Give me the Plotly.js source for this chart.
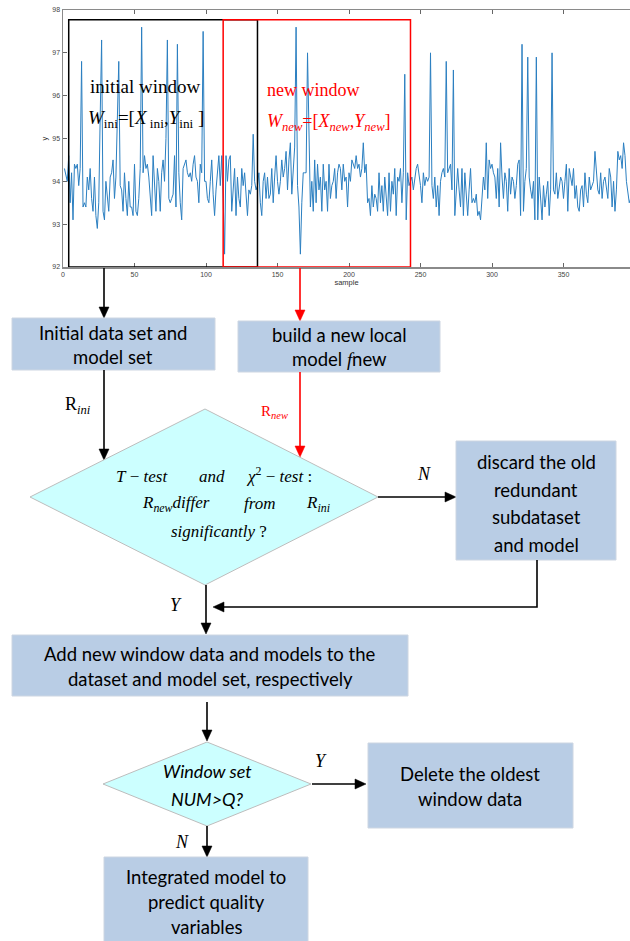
<!DOCTYPE html>
<html><head><meta charset="utf-8">
<script src="https://cdn.plot.ly/plotly-3.0.1.min.js"></script>
<style>html,body{margin:0;padding:0;background:#fff}#chart{width:630px;height:941px}</style>
</head><body><div id="chart"></div>
<script>
// ---------------- data ----------------
const yValues = [
94.3,94.1,94.0,94.6,93.5,94.2,93.1,94.4,94.3,94.4,
93.9,94.3,96.8,93.4,93.5,93.4,94.1,93.8,94.3,93.6,
93.3,94.1,93.2,92.9,93.5,95.5,97.3,93.3,93.1,94.0,
93.6,93.3,94.1,94.2,94.5,93.6,94.1,95.8,96.8,93.9,
93.8,93.3,94.2,93.6,93.2,94.0,93.4,93.4,93.2,94.4,
93.3,93.2,93.6,94.3,97.6,94.2,94.6,94.3,94.4,94.1,
93.7,93.2,94.6,94.0,93.3,94.3,94.0,93.3,94.2,94.5,
94.0,95.0,97.3,93.6,93.5,93.6,93.7,94.6,93.4,97.2,
94.2,93.5,93.1,94.3,94.4,94.5,94.2,94.1,94.2,94.0,
94.4,94.6,94.1,94.0,93.5,94.4,94.2,97.5,94.0,94.0,
93.6,93.5,94.0,94.5,93.7,93.2,93.8,94.3,94.6,93.9,
94.6,93.6,92.3,94.6,94.0,94.5,94.6,93.3,93.7,94.3,
93.2,94.1,93.6,93.4,94.3,93.9,94.2,93.8,93.2,93.8,
93.7,93.9,95.1,94.0,93.8,93.9,94.2,93.5,93.2,94.0,
94.2,93.6,94.1,93.6,93.7,94.3,93.5,94.1,94.6,94.0,
93.7,94.0,94.5,94.1,94.3,94.7,93.8,94.5,94.9,93.7,
94.4,94.8,97.6,93.9,93.4,92.3,93.5,94.2,94.2,94.2,
97.0,95.0,93.4,94.0,93.3,94.5,93.5,94.4,93.8,94.1,
93.3,94.4,93.8,94.0,93.3,94.4,93.6,93.9,94.0,94.3,
93.6,94.2,94.4,94.3,93.8,94.4,94.0,94.1,93.4,94.2,
94.0,94.5,94.4,94.3,94.6,94.3,94.4,94.1,94.3,94.9,
94.2,94.4,93.5,93.6,93.2,93.9,93.4,93.7,93.6,93.3,
94.2,93.5,93.9,93.3,94.1,93.7,93.2,94.2,93.3,94.0,
93.7,94.3,93.2,94.1,94.0,94.3,93.5,94.2,96.5,93.1,
94.2,93.9,94.0,94.1,93.8,94.1,94.3,94.4,94.2,93.9,
93.5,94.2,93.9,94.1,94.0,94.1,97.0,93.9,93.6,94.1,
93.4,93.9,93.2,94.0,94.2,94.3,94.1,96.8,94.2,94.3,
94.4,93.8,96.6,93.2,93.9,94.3,93.8,93.4,94.3,93.2,
94.2,93.7,93.2,93.8,94.3,93.5,93.6,93.5,93.7,93.2,
93.3,93.1,93.6,94.1,93.8,94.9,93.6,94.5,94.3,94.4,
94.2,94.1,93.6,94.3,93.4,94.9,94.1,93.6,94.2,94.0,
93.3,94.3,93.7,94.1,94.0,93.6,93.9,94.4,94.5,93.2,
97.2,93.3,94.0,94.3,96.9,94.1,93.8,93.6,94.0,93.1,
96.9,93.1,94.1,93.6,93.1,93.9,93.4,93.7,94.0,93.2,
93.8,97.0,93.8,93.7,94.2,93.6,93.9,94.1,94.0,93.6,
94.0,94.4,93.3,94.3,94.1,93.9,94.3,93.6,93.9,93.4,
93.3,93.8,93.9,93.4,94.2,93.7,93.5,94.1,93.8,93.9,
94.0,94.7,94.1,93.8,93.7,94.2,93.6,94.0,94.1,93.8,
93.6,94.3,94.1,93.4,94.0,93.3,93.8,94.7,94.5,94.6,
94.3,94.9,94.6,94.0,93.7,93.5,93.6,93.6,93.5,93.7
];
const sampleIndex = yValues.map((v, i) => i + 1);
const xTicks = [0, 50, 100, 150, 200, 250, 300, 350];
const yTicks = [92, 93, 94, 95, 96, 97, 98];
const windowIni = [4, 136];
const windowNew = [112, 243];
const windowLevel = [92, 97.77];

// ---------------- helpers (pixel -> paper) ----------------
const W = 630, H = 941;
const shapes = [], annotations = [];
const fx = x => x / W, fy = y => 1 - y / H;
function rect(x0, y0, x1, y1, fill, lc) {
  shapes.push({type:'rect', xref:'paper', yref:'paper', x0:fx(x0), x1:fx(x1), y0:fy(y0), y1:fy(y1),
    fillcolor:fill, line:{color:lc, width:1}, layer:'above'});
}
function poly(pts, fill, lc, lw) {
  const d = pts.map((p, i) => (i ? 'L' : 'M') + fx(p[0]) + ',' + fy(p[1])).join(' ') + (fill ? ' Z' : '');
  shapes.push({type:'path', xref:'paper', yref:'paper', path:d, fillcolor:fill || 'rgba(0,0,0,0)',
    line:{color:lc, width:lw === undefined ? 1 : lw}, layer:'above'});
}
function arrow(pts, color) {
  const n = pts.length, [x2, y2] = pts[n - 1], [x1, y1] = pts[n - 2];
  const dx = x2 - x1, dy = y2 - y1, L = Math.hypot(dx, dy), ux = dx / L, uy = dy / L;
  const hl = 11, hw = 5;
  const bx = x2 - ux * hl, by = y2 - uy * hl;
  poly(pts.slice(0, n - 1).concat([[bx, by]]), null, color, 1.6);
  poly([[x2, y2], [bx - uy * hw, by + ux * hw], [bx + uy * hw, by - ux * hw]], color, color, 0.5);
}
function txt(text, x, y, size, color, family, anchor) {
  annotations.push({xref:'paper', yref:'paper', x:fx(x), y:fy(y), text:text, showarrow:false,
    xanchor:anchor || 'center', yanchor:'middle',
    font:{size:size, color:color || '#000', family:family || 'Lato, sans-serif'}});
}
const SERIF = 'Liberation Serif, serif';
const BOX = '#B9CDE5', BOXL = '#cdd6e2', DIA = '#CCFFFF', DIAL = '#bdbdbd';
const FS = 18.5, DS = 17;

// ---------------- chart annotations ----------------
txt('initial window', 88, 87, 19, '#000', SERIF, 'left');
txt('<i>W</i><sub>ini</sub>=[<i>X</i><sub> ini</sub>,<i>Y</i><sub>ini</sub> ]', 86, 119, 19, '#000', SERIF, 'left');
txt('new window', 265, 90, 18, '#ff0000', SERIF, 'left');
txt('<i>W<sub>new</sub></i>=[<i>X<sub>new</sub></i>,<i>Y<sub>new</sub></i>]', 265, 122, 18, '#ff0000', SERIF, 'left');

// ---------------- flowchart ----------------
arrow([[104, 268], [104, 318]], '#000');
arrow([[300, 268], [300, 321]], '#ff0000');
rect(12, 318, 215, 370, BOX, BOXL);
txt('Initial data set and', 113, 333, FS);
txt('model set', 113, 357, FS);
rect(238, 321, 440, 372, BOX, BOXL);
txt('build a new local', 339, 335, FS);
txt('model <span style="font-family:Liberation Serif"><i>f</i></span>new', 339, 359, FS);
arrow([[104, 370], [104, 460]], '#000');
txt('R<sub><i>ini</i></sub>', 78, 406, 18, '#000', SERIF);
arrow([[300, 372], [300, 457]], '#ff0000');
txt('R<sub><i>new</i></sub>', 274, 412, 15, '#ff0000', SERIF);
// diamond 1
poly([[205, 409], [378, 497], [205, 585], [30, 497]], DIA, DIAL, 1);
txt('<i>T</i> − <i>test</i>', 142, 476, DS, '#000', SERIF);
txt('<i>and</i>', 212, 476, DS, '#000', SERIF);
txt('<i>χ</i><sup>2</sup> − <i>test</i> :', 279, 475, DS, '#000', SERIF);
txt('<i>R<sub>new</sub>differ</i>', 176, 504, DS, '#000', SERIF);
txt('<i>from</i>', 260, 504, DS, '#000', SERIF);
txt('<i>R<sub>ini</sub></i>', 318, 504, DS, '#000', SERIF);
txt('<i>significantly</i> ?', 219, 531, DS, '#000', SERIF);
// N branch
arrow([[378, 497], [456, 497]], '#000');
txt('<i>N</i>', 424, 474, 18, '#000', SERIF);
rect(456, 441, 616, 560, BOX, BOXL);
txt('discard the old', 536, 462, FS);
txt('redundant', 536, 490, FS);
txt('subdataset', 536, 517, FS);
txt('and model', 536, 545, FS);
arrow([[537, 560], [537, 607], [213, 607]], '#000');
// Y branch
arrow([[206, 585], [206, 634]], '#000');
txt('<i>Y</i>', 176, 605, 18, '#000', SERIF);
rect(12, 635, 408, 696, BOX, BOXL);
txt('Add new window data and models to the', 210, 654, FS);
txt('dataset and model set, respectively', 210, 679, FS);
arrow([[207, 702], [207, 741]], '#000');
// diamond 2
poly([[207, 742], [311, 784], [207, 826], [103, 784]], DIA, DIAL, 1);
txt('<i>Window set</i>', 207, 771, 18);
txt('<i>NUM>Q?</i>', 207, 799, 18);
arrow([[312, 784], [366, 784]], '#000');
txt('<i>Y</i>', 321, 761, 18, '#000', SERIF);
rect(368, 743, 573, 828, BOX, BOXL);
txt('Delete the oldest', 470, 774, FS);
txt('window data', 470, 799, FS);
arrow([[207, 826], [207, 857]], '#000');
txt('<i>N</i>', 182, 842, 18, '#000', SERIF);
rect(104, 857, 308, 945, BOX, BOXL);
txt('Integrated model to', 206, 877, FS);
txt('predict quality', 206, 902, FS);
txt('variables', 206, 927, FS);

// ---------------- window rectangles (data coords) ----------------
shapes.push({type:'rect', xref:'x', yref:'y', x0:windowIni[0], x1:windowIni[1], y0:windowLevel[0], y1:windowLevel[1],
  line:{color:'#000', width:1.5}, fillcolor:'rgba(0,0,0,0)', layer:'above'});
shapes.push({type:'rect', xref:'x', yref:'y', x0:windowNew[0], x1:windowNew[1], y0:windowLevel[0], y1:windowLevel[1],
  line:{color:'#ff0000', width:1.5}, fillcolor:'rgba(0,0,0,0)', layer:'above'});

const axisCommon = {ticks:'inside', ticklen:4, tickwidth:1, tickcolor:'#666', showline:true, linecolor:'#8a8a8a',
  linewidth:1.5, showgrid:false, zeroline:false, automargin:false,
  tickfont:{size:7, color:'#444', family:'Liberation Sans, Arial, sans-serif'}};

const trace = {x:sampleIndex, y:yValues, type:'scatter', mode:'lines',
  line:{color:'#2b7fc1', width:1}, hoverinfo:'skip'};

const layout = {
  width:W, height:H, margin:{l:0, r:0, t:0, b:0}, showlegend:false,
  paper_bgcolor:'#fff', plot_bgcolor:'#fff',
  xaxis:Object.assign({}, axisCommon, {domain:[63/630, 1], range:[0, 396.5], tickvals:xTicks, mirror:'ticks',
    title:{text:'sample', font:{size:7.5, color:'#333', family:'Liberation Sans, Arial, sans-serif'}, standoff:3}}),
  yaxis:Object.assign({}, axisCommon, {domain:[1 - 267/941, 1 - 10/941], range:[92, 98], tickvals:yTicks,
    title:{text:'y', font:{size:7.5, color:'#333', family:'Liberation Sans, Arial, sans-serif'}, standoff:3}}),
  shapes:shapes, annotations:annotations
};
Plotly.newPlot('chart', [trace], layout, {displayModeBar:false, staticPlot:true});
</script></body></html>
